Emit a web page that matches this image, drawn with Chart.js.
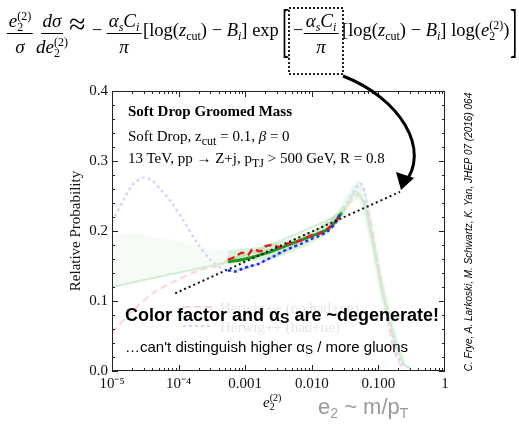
<!DOCTYPE html>
<html>
<head>
<meta charset="utf-8">
<script src="https://cdn.jsdelivr.net/npm/chart.js@4.4.1/dist/chart.umd.min.js"></script>
<style>
body { margin: 0; background: #fff; }
#wrap { position: relative; width: 519px; height: 426px; overflow: hidden; font-family: "Liberation Serif", serif; color: #000; }
#chart { position: absolute; left: 0; top: 0; }
.abs { position: absolute; white-space: nowrap; }
.fr { position: absolute; top: 9px; display: flex; flex-direction: column; align-items: center; font-size: 19px; transform: translateX(-50%); }
.fr .n { border-bottom: 1px solid #000; padding: 0 2px 0; line-height: 24px; height: 24px; }
.fr .d { line-height: 24px; padding-top: 1px; }
.row { position: absolute; top: 20px; line-height: 20px; font-size: 18.5px; white-space: nowrap; }
.ss { display: inline-flex; flex-direction: column; font-size: 12px; line-height: 11px; vertical-align: 7px; font-style: normal; }
.sub { font-size: 12px; vertical-align: -4px; }
.big { position: absolute; top: 18px; font-size: 22px; transform: scaleY(2.7); transform-origin: 50% 50%; }
.note { font-family: "Liberation Serif", serif; font-size: 15px; }
.sans { font-family: "Liberation Sans", Arial, sans-serif; }
</style>
</head>
<body>
<div id="wrap">
  <canvas id="chart" width="519" height="426"></canvas>

  <!-- equation -->
  <div class="fr" style="left:20px;"><span class="n"><i>e</i><span class="ss"><span>(2)</span><span>2</span></span></span><span class="d"><i>σ</i></span></div>
  <div class="fr" style="left:52px;"><span class="n"><i>dσ</i></span><span class="d"><i>de</i><span class="ss"><span>(2)</span><span>2</span></span></span></div>
  <div class="row" style="left:69px;top:14px;font-size:30px;">≈</div>
  <div class="row" style="left:92px;">−</div>
  <div class="fr" style="left:124px;"><span class="n"><i>α<span class="sub">s</span>C<span class="sub">i</span></i></span><span class="d"><i>π</i></span></div>
  <div class="row" style="left:143px;">[log(<i>z</i><span class="sub">cut</span>) − <i>B<span class="sub">i</span></i>] exp</div>
  <div class="big" style="left:282px;">[</div>
  <div class="row" style="left:293px;">−</div>
  <div class="fr" style="left:321px;"><span class="n"><i>α<span class="sub">s</span>C<span class="sub">i</span></i></span><span class="d"><i>π</i></span></div>
  <div class="row" style="left:342px;">[log(<i>z</i><span class="sub">cut</span>) − <i>B<span class="sub">i</span></i>] log(<i>e</i><span class="ss"><span>(2)</span><span>2</span></span>)</div>
  <div class="big" style="left:510px;">]</div>

  <svg class="abs" style="left:0;top:0" width="519" height="426">
    <rect x="289" y="8" width="54" height="66" fill="none" stroke="#222" stroke-width="2" stroke-dasharray="2,2"/>
    <path d="M343,76 C400,98 432,150 404,184" fill="none" stroke="#000" stroke-width="3"/>
    <path d="M396,172 L401,190 L414,178 Z" fill="#000"/>
  </svg>

  <!-- in-plot notes -->
  <div class="abs note" style="left:128px;top:103px;font-weight:bold;">Soft Drop Groomed Mass</div>
  <div class="abs note" style="left:128px;top:128px;">Soft Drop, z<span class="sub">cut</span> = 0.1, <i>β</i> = 0</div>
  <div class="abs note" style="left:128px;top:150px;">13 TeV, pp → Z+j, p<span class="sub">TJ</span> &gt; 500 GeV, R = 0.8</div>
  <div class="abs sans" style="left:125px;top:305px;font-size:18px;font-weight:bold;">Color factor and α<span style="font-size:14px;vertical-align:-2px">S</span> are ~degenerate!</div>
  <div class="abs sans" style="left:125px;top:338px;font-size:15px;">…can't distinguish higher α<span style="font-size:12px;vertical-align:-2px">S</span> / more gluons</div>

  <!-- axis extras -->
  <div class="abs" style="left:263px;top:393px;font-size:15px;line-height:18px;"><i>e</i><span class="ss" style="font-size:10px;line-height:9px;vertical-align:6px"><span>(2)</span><span>2</span></span></div>
  <div class="abs sans" style="left:318px;top:394px;font-size:22px;color:#9a9a9a;">e<span style="font-size:14px;vertical-align:-4px">2</span> ~ m/p<span style="font-size:14px;vertical-align:-4px">T</span></div>
  <div class="abs sans" style="left:468px;top:232px;font-size:10px;font-style:italic;transform:translate(-50%,-50%) rotate(-90deg);">C. Frye, A. Larkoski, M. Schwartz, K. Yan, JHEP 07 (2016) 064</div>
</div>

<script>
// ticks
const xTickVals = [1e-5, 1e-4, 1e-3, 1e-2, 1e-1, 1];
const xTickLabels = ['10⁻⁵', '10⁻⁴', '0.001', '0.010', '0.100', '1'];
const yTickVals = [0, 0.1, 0.2, 0.3, 0.4];

// resummed prediction (green) and its band
const greenX = [0.00055, 0.001, 0.002, 0.005, 0.01, 0.017, 0.022, 0.028];
const greenY = [0.156, 0.160, 0.168, 0.182, 0.193, 0.202, 0.212, 0.226];
const bandX = [0.00055, 0.001, 0.003, 0.01, 0.02, 0.03];
const bandHi = [0.173, 0.175, 0.183, 0.200, 0.220, 0.238];
const bandLo = [0.152, 0.156, 0.163, 0.183, 0.203, 0.218];

// Herwig++ no had+ue (red dashed), had+ue (blue dotted)
const redX = [0.00055, 0.0007, 0.0009, 0.0011, 0.0013, 0.0017, 0.002, 0.0026, 0.0033, 0.0042, 0.0052, 0.007, 0.0094, 0.013, 0.017, 0.022, 0.027];
const redY = [0.159, 0.163, 0.169, 0.166, 0.174, 0.171, 0.178, 0.180, 0.177, 0.182, 0.183, 0.187, 0.193, 0.196, 0.203, 0.212, 0.223];
const blueX = [0.00055, 0.0007, 0.0009, 0.0012, 0.0016, 0.002, 0.0026, 0.0035, 0.0052, 0.007, 0.0094, 0.013, 0.017, 0.022, 0.027];
const blueY = [0.144, 0.142, 0.146, 0.150, 0.153, 0.158, 0.163, 0.170, 0.177, 0.182, 0.188, 0.193, 0.199, 0.210, 0.226];

// slope line (black dotted)
const slopeX = [0.000089, 0.211];
const slopeY = [0.111, 0.256];

// faded full-range curves
const fadeBlueX = [1e-5, 1.5e-5, 2e-5, 2.9e-5, 4e-5, 5.5e-5, 7.4e-5, 1.16e-4, 1.9e-4, 3e-4, 4.2e-4, 0.00055, 0.001, 0.005, 0.027, 0.04, 0.053, 0.063, 0.074, 0.095, 0.117, 0.15, 0.178, 0.22, 0.3];
const fadeBlueY = [0.213, 0.245, 0.265, 0.276, 0.272, 0.258, 0.244, 0.216, 0.183, 0.159, 0.148, 0.144, 0.146, 0.177, 0.226, 0.252, 0.268, 0.254, 0.206, 0.159, 0.111, 0.073, 0.034, 0.012, 0.004];
const fadeRedX = [1e-5, 1.9e-5, 4.1e-5, 9.4e-5, 2.1e-4, 4.2e-4, 0.00055, 0.001, 0.005, 0.027, 0.04, 0.05, 0.07, 0.095, 0.13, 0.17, 0.22];
const fadeRedY = [0.055, 0.083, 0.111, 0.130, 0.144, 0.151, 0.159, 0.166, 0.183, 0.223, 0.245, 0.252, 0.228, 0.160, 0.090, 0.030, 0.006];
const fadeGreenX = [1e-5, 3e-5, 9.4e-5, 3e-4, 0.00055, 0.028, 0.045, 0.06, 0.08, 0.11, 0.15, 0.2, 0.25, 0.3];
const fadeGreenY = [0.120, 0.130, 0.140, 0.150, 0.156, 0.226, 0.256, 0.240, 0.190, 0.120, 0.070, 0.030, 0.008, 0.003];
const fadeBandX = [1e-5, 2e-5, 5e-5, 1e-4, 3e-4, 0.00055];
const fadeBandHi = [0.195, 0.197, 0.190, 0.185, 0.175, 0.173];
const fadeBandLo = [0.120, 0.126, 0.134, 0.140, 0.150, 0.156];
const peakBandX = [0.028, 0.04, 0.05, 0.06, 0.08, 0.11, 0.15, 0.2, 0.25];
const peakBandHi = [0.238, 0.262, 0.272, 0.262, 0.215, 0.145, 0.090, 0.045, 0.015];
const peakBandLo = [0.218, 0.240, 0.245, 0.222, 0.170, 0.100, 0.055, 0.018, 0.002];

const pts = (xs, ys) => xs.map((x, i) => ({ x: x, y: ys[i] }));

function line(data, color, width, dash, order) {
    return { data: data, borderColor: color, borderWidth: width, borderDash: dash, pointRadius: 0, fill: false, tension: 0.3, order: order };
}

const datasets = [
    { data: pts(fadeBandX, fadeBandHi), borderWidth: 0, pointRadius: 0, fill: '+1', backgroundColor: 'rgba(215,238,215,0.22)', tension: 0.3, order: 20 },
    { data: pts(fadeBandX, fadeBandLo), borderWidth: 0, pointRadius: 0, fill: false, tension: 0.3, order: 20 },
    { data: pts(peakBandX, peakBandHi), borderWidth: 0, pointRadius: 0, fill: '+1', backgroundColor: 'rgba(210,235,210,0.4)', tension: 0.3, order: 20 },
    { data: pts(peakBandX, peakBandLo), borderWidth: 0, pointRadius: 0, fill: false, tension: 0.3, order: 20 },
    line(pts(fadeGreenX, fadeGreenY), 'rgba(205,235,205,0.9)', 2, [], 15),
    line(pts(fadeRedX, fadeRedY), 'rgba(250,210,210,0.9)', 2, [7, 4], 15),
    line(pts(fadeBlueX, fadeBlueY), 'rgba(205,212,250,0.9)', 2.5, [3, 3], 15),
    { data: pts(bandX, bandHi), borderWidth: 0, pointRadius: 0, fill: '+1', backgroundColor: 'rgba(150,215,150,0.35)', tension: 0.3, order: 10 },
    { data: pts(bandX, bandLo), borderWidth: 0, pointRadius: 0, fill: false, tension: 0.3, order: 10 },
    line(pts(greenX, greenY), '#1b9a1b', 3, [], 5),
    line(pts(redX, redY), '#e41f1f', 2.5, [7, 4], 4),
    line(pts(blueX, blueY), '#1f2fe6', 2.5, [3, 3], 3),
    line(pts(slopeX, slopeY), '#111', 2, [2, 3], 1)
];

const frameTicks = {
    id: 'frameTicks',
    afterDatasetsDraw(chart) {
        const { ctx, chartArea: a, scales: { x, y } } = chart;
        ctx.save();
        // faded legend
        ctx.font = '15px "Liberation Serif"';
        ctx.fillStyle = '#e6e6e6';
        ctx.fillText('Herwig++ (no had+ue)', 220, 313);
        ctx.fillText('Herwig++ (had+ue)', 220, 332);
        ctx.lineWidth = 2;
        ctx.strokeStyle = 'rgba(250,210,210,0.9)';
        ctx.setLineDash([7, 4]);
        ctx.beginPath(); ctx.moveTo(183, 307); ctx.lineTo(212, 307); ctx.stroke();
        ctx.strokeStyle = 'rgba(205,212,250,0.9)';
        ctx.setLineDash([3, 3]);
        ctx.beginPath(); ctx.moveTo(183, 326); ctx.lineTo(212, 326); ctx.stroke();
        ctx.setLineDash([]);

        ctx.strokeStyle = '#222';
        ctx.lineWidth = 1;
        ctx.strokeRect(a.left + 0.5, a.top + 0.5, a.right - a.left - 1, a.bottom - a.top - 1);
        ctx.beginPath();
        for (let k = 0; k <= 20; k++) {
            const py = Math.round(y.getPixelForValue(k * 0.02)) + 0.5;
            const len = k % 5 === 0 ? 6 : 3;
            ctx.moveTo(a.left, py); ctx.lineTo(a.left + len, py);
            ctx.moveTo(a.right, py); ctx.lineTo(a.right - len, py);
        }
        for (let e = -5; e < 0; e++) {
            for (let m = 1; m < 10; m++) {
                const px = Math.round(x.getPixelForValue(m * Math.pow(10, e))) + 0.5;
                const len = m === 1 ? 6 : 3;
                ctx.moveTo(px, a.bottom); ctx.lineTo(px, a.bottom - len);
                ctx.moveTo(px, a.top); ctx.lineTo(px, a.top + len);
            }
        }
        ctx.stroke();
        ctx.restore();
    }
};

new Chart(document.getElementById('chart'), {
    type: 'line',
    data: { datasets: datasets },
    options: {
        responsive: false,
        animation: false,
        events: [],
        layout: { padding: { left: 0, top: 91, right: 74, bottom: 0 } },
        plugins: { legend: { display: false }, tooltip: { enabled: false } },
        scales: {
            x: {
                type: 'logarithmic',
                min: 1e-5,
                max: 1,
                grid: { display: false, drawTicks: false },
                border: { display: false },
                afterBuildTicks: (scale) => { scale.ticks = xTickVals.map(v => ({ value: v })); },
                afterFit: (scale) => { scale.height = 55; },
                ticks: {
                    autoSkip: false,
                    maxRotation: 0,
                    padding: 4,
                    color: '#111',
                    font: { family: 'Liberation Serif', size: 15 },
                    callback: (v, i) => xTickLabels[i]
                }
            },
            y: {
                min: 0,
                max: 0.4,
                grid: { display: false, drawTicks: false },
                border: { display: false },
                afterBuildTicks: (scale) => { scale.ticks = yTickVals.map(v => ({ value: v })); },
                afterFit: (scale) => { scale.width = 112; },
                title: {
                    display: true,
                    text: 'Relative Probability',
                    color: '#111',
                    font: { family: 'Liberation Serif', size: 15 },
                    padding: { top: 67, bottom: 0 }
                },
                ticks: {
                    padding: 4,
                    color: '#111',
                    font: { family: 'Liberation Serif', size: 15 },
                    callback: (v) => v.toFixed(1)
                }
            }
        }
    },
    plugins: [frameTicks]
});
</script>
</body>
</html>
